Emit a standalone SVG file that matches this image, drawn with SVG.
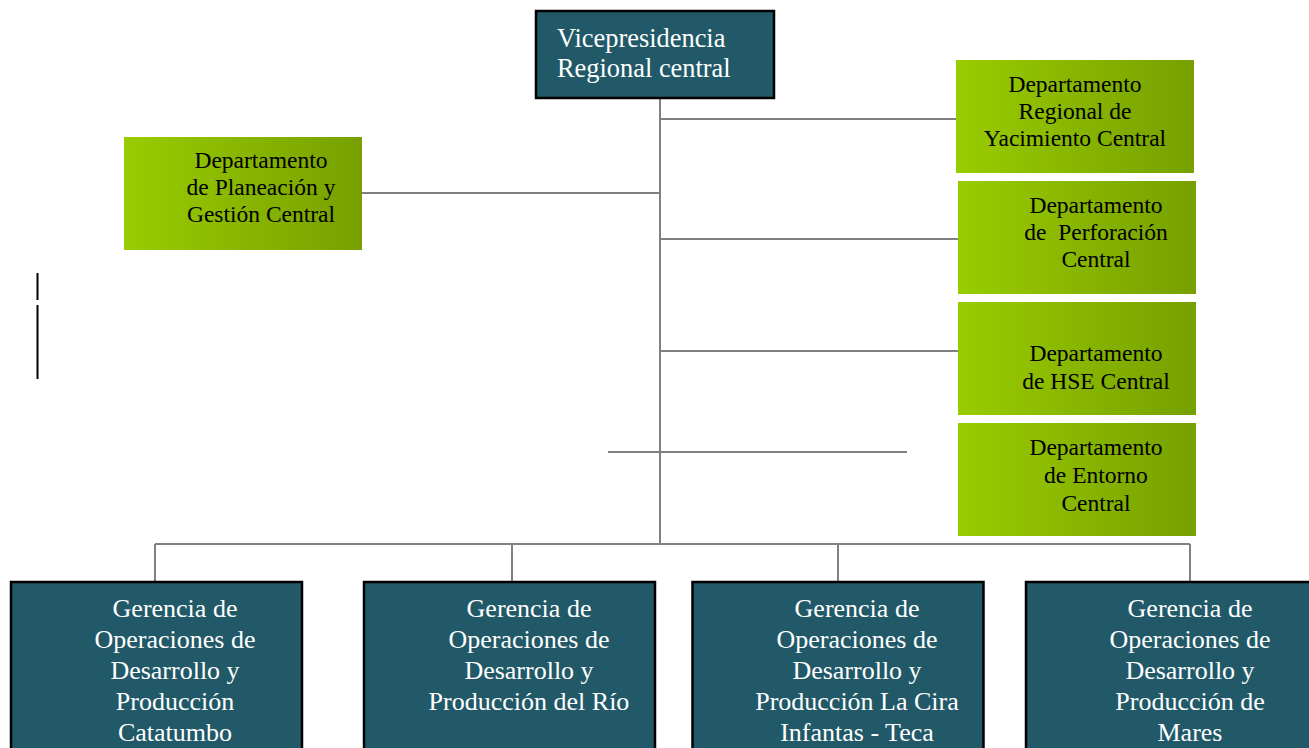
<svg xmlns="http://www.w3.org/2000/svg" width="1309" height="748" viewBox="0 0 1309 748">
<defs>
<linearGradient id="g" x1="0" y1="0" x2="1" y2="0">
<stop offset="0" stop-color="#99CC00"/>
<stop offset="1" stop-color="#77A000"/>
</linearGradient>
<style>
.dark{fill:#215968;stroke:#000;stroke-width:2.5}
.green{fill:url(#g)}
.ln{stroke:#808080;stroke-width:2;fill:none}
.tw{font-family:"Liberation Serif",serif;fill:#fff}
.tb{font-family:"Liberation Serif",serif;fill:#000;font-size:23.5px;text-anchor:middle}
.bot{font-size:26px;text-anchor:middle}
</style>
</defs>
<rect width="1309" height="748" fill="#fff"/>
<g id="connectors">
<line class="ln" x1="660" y1="98" x2="660" y2="544"/>
<line class="ln" x1="660" y1="119" x2="957" y2="119"/>
<line class="ln" x1="362" y1="193" x2="660" y2="193"/>
<line class="ln" x1="660" y1="239" x2="958" y2="239"/>
<line class="ln" x1="660" y1="351" x2="958" y2="351"/>
<line class="ln" x1="608" y1="452" x2="907" y2="452"/>
<line class="ln" x1="155" y1="544" x2="1190" y2="544"/>
<line class="ln" x1="155" y1="544" x2="155" y2="581"/>
<line class="ln" x1="512" y1="544" x2="512" y2="581"/>
<line class="ln" x1="838" y1="544" x2="838" y2="581"/>
<line class="ln" x1="1190" y1="544" x2="1190" y2="581"/>
</g>
<g id="bars">
<line x1="37.5" y1="273" x2="37.5" y2="300" stroke="#000" stroke-width="2"/>
<line x1="37.5" y1="305" x2="37.5" y2="379" stroke="#000" stroke-width="2"/>
</g>
<g id="vp">
<rect class="dark" x="536" y="11" width="238" height="87"/>
<text class="tw" font-size="26.4" x="557" y="47">Vicepresidencia</text>
<text class="tw" font-size="26.4" x="557" y="77">Regional central</text>
</g>
<g id="yacimiento">
<rect class="green" x="956" y="60" width="238" height="113"/>
<text class="tb" x="1075" y="92">Departamento</text>
<text class="tb" x="1075" y="119">Regional de</text>
<text class="tb" x="1075" y="146">Yacimiento Central</text>
</g>
<g id="planeacion">
<rect class="green" x="124" y="137" width="238" height="113"/>
<text class="tb" x="261" y="168">Departamento</text>
<text class="tb" x="261" y="195">de Planeación y</text>
<text class="tb" x="261" y="222">Gestión Central</text>
</g>
<g id="perforacion">
<rect class="green" x="958" y="181" width="238" height="113"/>
<text class="tb" x="1096" y="213">Departamento</text>
<text class="tb" x="1096" y="240" xml:space="preserve">de  Perforación</text>
<text class="tb" x="1096" y="267">Central</text>
</g>
<g id="hse">
<rect class="green" x="958" y="302" width="238" height="113"/>
<text class="tb" x="1096" y="361">Departamento</text>
<text class="tb" x="1096" y="389">de HSE Central</text>
</g>
<g id="entorno">
<rect class="green" x="958" y="423" width="238" height="113"/>
<text class="tb" x="1096" y="455">Departamento</text>
<text class="tb" x="1096" y="483">de Entorno</text>
<text class="tb" x="1096" y="511">Central</text>
</g>
<g id="catatumbo">
<rect class="dark" x="11" y="582" width="291" height="180"/>
<text class="tw bot" x="175" y="617">Gerencia de</text>
<text class="tw bot" x="175" y="648">Operaciones de</text>
<text class="tw bot" x="175" y="679">Desarrollo y</text>
<text class="tw bot" x="175" y="710">Producción</text>
<text class="tw bot" x="175" y="741">Catatumbo</text>
</g>
<g id="rio">
<rect class="dark" x="364" y="582" width="291" height="180"/>
<text class="tw bot" x="529" y="617">Gerencia de</text>
<text class="tw bot" x="529" y="648">Operaciones de</text>
<text class="tw bot" x="529" y="679">Desarrollo y</text>
<text class="tw bot" x="529" y="710">Producción del Río</text>
</g>
<g id="lacira">
<rect class="dark" x="692.5" y="582" width="291" height="180"/>
<text class="tw bot" x="857" y="617">Gerencia de</text>
<text class="tw bot" x="857" y="648">Operaciones de</text>
<text class="tw bot" x="857" y="679">Desarrollo y</text>
<text class="tw bot" x="857" y="710">Producción La Cira</text>
<text class="tw bot" x="857" y="741">Infantas - Teca</text>
</g>
<g id="mares">
<rect class="dark" x="1026" y="582" width="300" height="180"/>
<text class="tw bot" x="1190" y="617">Gerencia de</text>
<text class="tw bot" x="1190" y="648">Operaciones de</text>
<text class="tw bot" x="1190" y="679">Desarrollo y</text>
<text class="tw bot" x="1190" y="710">Producción de</text>
<text class="tw bot" x="1190" y="741">Mares</text>
</g>
</svg>
